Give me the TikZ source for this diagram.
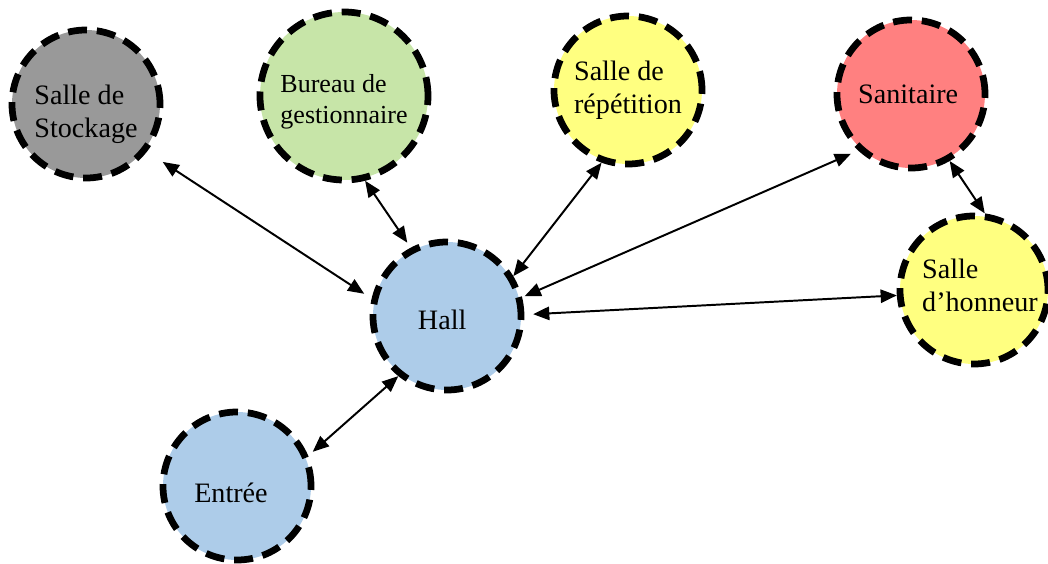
\documentclass[tikz,border=0pt]{standalone}
\usepackage{fontspec}
\setmainfont{Liberation Serif}
\usetikzlibrary{arrows.meta}
\definecolor{grisSt}{RGB}{153,153,153}
\definecolor{vertBu}{RGB}{199,229,168}
\definecolor{jauneS}{RGB}{255,255,128}
\definecolor{rougeS}{RGB}{255,128,128}
\definecolor{bleuH}{RGB}{173,204,233}
\begin{document}
\begin{tikzpicture}[
  room/.style={circle,draw=black,line width=4.8pt,dash pattern=on 13.5pt off 7pt,
    minimum size=3.7cm,inner sep=0pt},
  txt/.style={align=left,inner sep=0pt,font=\fontsize{20}{23.5}\selectfont},
  link/.style={{Triangle[length=11.5pt,width=9.5pt]}-{Triangle[length=11.5pt,width=9.5pt]},line width=1.4pt}]
 \useasboundingbox (0,0) rectangle (26.2,14.075);
 % salles
 \node[room,fill=grisSt,label={[txt,yshift=-0.25cm]center:Salle de\\Stockage}] (stock) at (2.15,11.475) {};
 \node[room,fill=vertBu,minimum size=4.2cm,
   label={[txt,yshift=-0.15cm,font=\fontsize{18.5}{22}\selectfont]center:Bureau de\\gestionnaire}] (bureau) at (8.6,11.675) {};
 \node[room,fill=jauneS,label={[txt]center:Salle de\\répétition}] (repet) at (15.7,11.825) {};
 \node[room,fill=rougeS,label={[txt,xshift=-0.07cm]center:Sanitaire}] (sanit) at (22.775,11.725) {};
 \node[room,fill=jauneS,label={[txt,shift={(0.15,0.12)}]center:Salle\\d’honneur}] (honneur) at (24.35,6.825) {};
 \node[room,fill=bleuH,label={[txt,shift={(-0.12,-0.1)}]center:Hall}] (hall) at (11.175,6.175) {};
 \node[room,fill=bleuH,label={[txt,shift={(-0.15,-0.17)}]center:Entrée}] (entree) at (5.925,1.925) {};
 % liaisons
 \draw[link,shorten <=0.47cm,shorten >=0.22cm] (stock.-38) -- (hall.167);
 \draw[link,shorten >=0.15cm] (bureau.-76) -- (hall.118);
 \draw[link] (repet.-110) -- (hall.31);
 \draw[link,shorten <=0.2cm,shorten >=0.07cm] (sanit.-133) -- (hall.14);
 \draw[link,shorten >=0.22cm] (honneur.184) -- (hall.1);
 \draw[link] (sanit.-60) -- (honneur.82);
 \draw[link,shorten <=0.15cm] (entree.23) -- (hall.-129);
\end{tikzpicture}
\end{document}
